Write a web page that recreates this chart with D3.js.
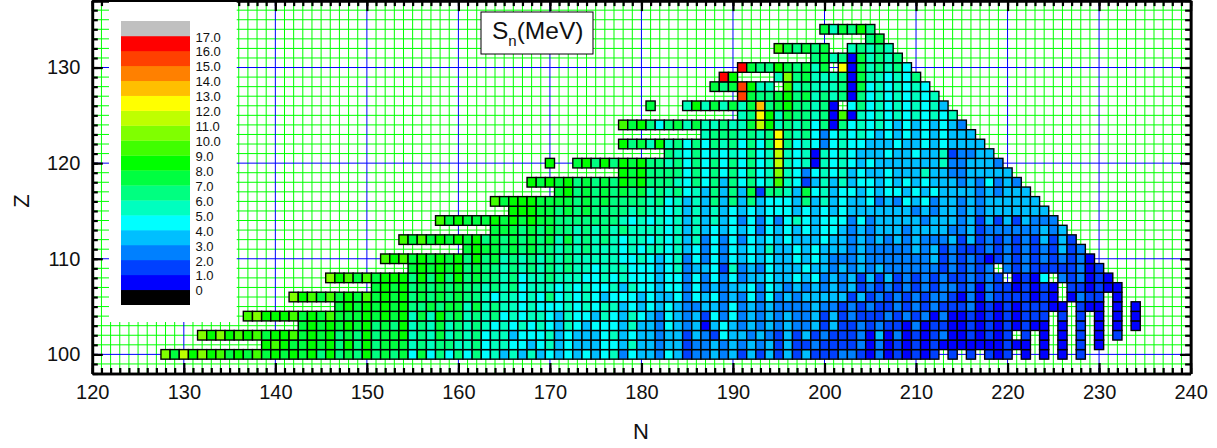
<!DOCTYPE html>
<html>
<head>
<meta charset="utf-8">
<script src="https://cdn.jsdelivr.net/npm/d3@7"></script>
<style>
  body { margin: 0; background: #fff; }
  text { font-family: "Liberation Sans", Arial, sans-serif; fill: #111; }
</style>
</head>
<body>
<div id="chart"></div>
<script>
// Sn, as the lower edge of the 1 MeV colour band. _ = no cell.
var _ = null;
var sn100 = [10,7,11,8,10,8,9,7,8,7,9,7, 8,7,8,7,8,6,8,6,7,6, 8,6,7, 6,7,4,7,4,6,4, 6,4,6,4,5,3,5,3,5,3, 4,3,4,3,4,3,4,5,2,4, 3,3,2,4,3,1, 2,2,3,2,3,1,3,1,3,1,3,1,3,1, 1,1,2,2,1,0,2,0,1,0,1,0,1,_, 1,_,1,_,1,0,1,_,0,_,0,_,0,_,1];
var sn101 = [8, 9,8,7,7,8,7,8,6,8,6, 8,6,7, 7,7,5,6,5,6,6, 5,5,6,4,5,5,4,4,3,4, 5,3,4,3,3,3,4,4,3,5, 3,3,2,3,3,1, 2,2,3,2,3,2,3,2,3,1,3,1,1,2, 1,1,1,1,2,0,2,0,1,0,1,0,1,0, 0,0,0,0,0,0,1,0,0, _,0,_,0,_,1,_,0];
var sn102 = [10,8,10,8,9,8,9,7, 8,8,9,7,8,7,8,6,7,6, 8,6,7, 7,8,5,6,5,7,5, 6,5,6,4,5,5,3,4,4,4, 5,3,4,3,3,3,4,5,3,4, 3,3,2,3,3,1, 3,2,1,4,3,3,2,3,2,1,3,1,3,1, 2,1,1,1,2,0,3,0,2,0,1,0,1,2, 0,0,1,0,1,0,1, _,1,_,0,_,0,_,1,_,0,_,1];
var sn103 = [7,8,7,8,7,8,7, 8,6,7, 6,8,5,6,5,7,5, 6,5,6,5,4,5,4,5,4,5, 4,3,5,4,3,4,4,4,3,5, 3,3,2,4,3,2, 3,0,3,4,3,2,3,2,3,2,3,2,2,3, 1,3,1,1,2,1,2,1,1,0,2,0,1,1, 0,0,1,0,1,0,1,0,1,0,0, _,0,_,1,_,0,_,0,_,0];
var sn104 = [9,10,8, 8,8,9,7,8,7,9,7,7,7, 8,7,8, 7,8,5,7,5,8,6, 7,5,6,5,6,4,5,4,5,5, 4,3,5,4,4,3,5,4,3,5, 4,3,2,4,3,2, 3,1,4,2,4,2,3,2,3,2,3,2,2,3, 1,3,1,2,1,1,1,2,1,2,1,2,0,2, 0,0,1,0,1,0,1,0,1,1,1, _,1,_,1,_,0,_,0,_,0];
var sn105 = [7,8,7, 8,7,8, 7,8,6,6,7,6,7, 7,5,7,5,6,5,5,4,5,4, 4,4,5,4,5,4,5,5,3,4, 3,4,3,4,3,2, 2,3,3,2,4,2,3,2,3,2,2,2,2,3, 2,2,1,2,1,2,1,1,2,1,2,1,2,1, 1,1,2,0,1,0,1,0,1,1,1,0,0, _,1,0,0, _,0,_,0];
var sn106 = [10,8,9,7,9,7,8,7, 9,7,8, 7,8,6,7,6,7,6, 7,6,6,5,4,5,5,4,5,4, 6,4,5,4,5,4,3,4,4,4, 3,4,3,3,4,2, 4,3,4,2,3,2,4,2,4,2,3,2,3,3, 3,3,3,1,3,1,2,1,2,1,2,1,2,2, 1,0,2,0,2,1,1,1,1,0,1,0, _,0,2,1,1, _,0];
var sn107 = [7,8, 7,8,6,7,6,7,6, 7,6,6,5,6,5,6,4,5,5, 5,4,5,4,5,4,4,5,3,5, 4,4,3,4,4,2, 4,2,3,2,3,3,4,2,4,3,2,3,2,3, 2,3,2,3,1,2,1,2,1,2,1,2,1,2, 2,1,2,0,2,1,1,0,1,0,1,0, _,1,1,0,1,0,0];
var sn108 = [10,8,9,7, 9,7,8, 8,8,6,8,6,8,6, 8,6,7,6,6,5,6,4,5,5, 6,5,5,5,4,4,5,4,5,4, 4,4,3,4,4,2, 4,2,4,2,4,2,3,3,4,3,3,4,3,4, 2,3,2,3,1,3,1,3,1,2,1,2,1,2, 1,1,2,1,2,1, _,0,1,0,4, _,2,1,2,0,1,0];
var sn109 = [7,8,7,8,7, 8,6,7,6,6,5,6,5,6,5, 6,5,6,5,5,4,5,5,5,4, 4,4,3,4,5,2, 3,3,4,1,5,2,3,2,4,3,3,3,4,3, 3,2,3,2,3,2,3,2,2,2,2,2,2,1, 2,1,2,1,2, _,2,1,2,1,1,1,1,1,2,0,1];
var sn110 = [9, 8,9,7,8,7,8,7, 8,6,8,6,7,5,6,5,6,5, 6,5,6,5,5,5,5,5,4,4, 5,4,3,4,5,2, 4,2,4,2,4,3,4,3,4,3,3,4,3,4, 3,2,2,2,3,2,2,2,2,2,2,2,3,1, 2,1,2,1,0,1,2,1,2,1,2,1,2,1,2,0];
var sn111 = [7,8,7,7,6,7,6,7,6, 6,5,6,5,6,5,5,5,4,5, 4,5,5,4,5,3, 4,2,4,2,4,3,4,3,5,3,3,4,3,4, 3,3,3,2,3,2,2,2,2,2,3,2,3,1, 2,1,1,1,2,1,2,1,2,1,2,1,3,1,2];
var sn112 = [9,7,9,7,8,7, 8,7,8,6,7,6,7,6,7,6, 7,5,7,5,6,5,6,5,4,5, 5,4,5,4,5,3, 5,2,4,2,4,2,4,3,4,3,4,3,3,3, 4,3,3,2,3,2,3,2,3,2,3,2,2,2, 3,1,3,1,2,1,2,1,2,1,3,1,3,1];
var sn113 = [7,7,7,6,7,6, 7,6,6,5,6,5,6,5,6,5, 5,5,5,4,5,3, 5,3,4,3,4,3,4,2,4,3,4,3,4,3, 4,4,3,2,3,2,3,3,3,2,3,3,3,3, 2,2,3,1,2,2,2,2,2,2,3,2,3];
var sn114 = [9,7, 8,7,7,7,8,7,8,7,8,7, 7,6,6,6,6,6,6,6,5,4, 5,4,5,4,5,3, 5,3,5,3,4,2,4,2,4,2,4,5,4,3, 4,4,4,2,4,2,3,3,3,3,3,2,3,3, 3,2,3,1,3,1,3,1,3,2,2,2];
var sn115 = [8,8,8,7, 7,6,7,6,7,6,6,6,6,5, 6,5,5,4,5,3, 5,3,5,3,4,3,4,3,4,4,4,3,4,3, 4,3,4,3,3,3,3,3,3,3,2,3,2,3, 3,2,3,2,3,3,3,3,3,3,3];
var sn116 = [9,7,8,8,8,7, 7,7,7,6,7,6,7,6,6,6, 6,5,6,4,5,3, 5,3,6,3,6,3,6,3,4,4,4,3,6,3, 5,3,4,3,3,4,2,3,2,4,3,4,2,3, 3,2,3,2,3,3,3,3,3,3];
var sn117 = [7,8,6,7,6,7,6,7,6, 7,5,6,5,6,4, 5,3,6,3,6,3,7,1,6,6,5,3,7,4, 5,3,4,4,3,4,3,4,4,3,4,3,4,3, 3,3,3,2,3,2,3,3,3];
var sn118 = [8,7,8,7,8,6,7,6,7,6,8,7, 8,6,6,6,5,4, 6,4,6,3,6,4,6,4,5,9,5,4,1,3, 5,3,5,3,4,4,3,4,3,4,3,4,3,3, 3,2,3,2,4,2,3,2];
var sn119 = [8,7, 8,6,6,6,6,4, 6,4,6,4,6,4,6,4,5,10,5,4,2,4, 5,4,5,3,4,3,3,4,3,3,3,5,3,3, 2,2,3,3,3,3,3];
var sn120 = [8,_,_, 7,8,6,8,6,8,7, 8,6,6,5,6,4, 6,4,6,4,6,4,6,4,5,11,5,4,5,0, 5,4,5,4,3,4,3,3,3,3,3,3,3,5, 2,2,3,3,3,2];
var sn121 = [6,5,4, 6,4,5,4,5,4,6,4,5,11,5,4,5,0, 5,4,5,4,3,3,3,4,3,3,4,3,3,5, 1,2,2,3,3];
var sn122 = [8,6, 7,5,8,5,6,4, 6,4,6,5,6,4,6,4,6,12,6,4,5,4, 2,4,5,4,4,3,3,3,4,3,3,4,3,4, 3,3,3,3];
var sn123 = [5,6,6,6,5,6,5,6,12,6,5,6,4, 2,4,5,4,5,4,3,4,3,4,3,4,3,4, 3,3,3];
var sn124 = [9,7, 8,6,4,6,7,5, 7,5,5,6,5,5,7,11,8,5,6,5,6,4, 6,0,6,4,5,4,5,4,3,4,3,4,3,4, 3,2];
var sn125 = [5,6,12,8,5,7,6,6,5, 6,0,9,0,5,4,5,4,5,4,5,4,5,4,5];
var sn126 = [7,_,_,_,5, 8,5,7,5,7,5,7,13,6,7,8,6,6,5, 6,0,_,4,6,4,5,4,5,4,5,4,5,3];
var sn127 = [15,7,6,6,7,8,6,7,5, 6,5,6,0,6,4,5,4,5,4,5,4,5];
var sn128 = [7,6,7,15,8,5,5,_,9,5,6,5, 5,5,6,0,7,4,5,4,5,4,5,4];
var sn129 = [16,8,_,_,_,_,5,10,6,7,5, 5,5,6,0,7,5,5,4,5,4,6];
var sn130 = [16,7,6,6,8,7,6,7,5, 7,_,12,0,7,5,6,5,6,4];
var sn131 = [6, 7,5,6,0,7,5,6,5,6];
var sn132 = [9,7,6,7,6, 7,_,_,5,6,5,6,5];
var sn133 = [6,7];
var sn134 = [7,5,7,6,8,6];

var protonRows = [100,101,102,103,104,105,106,107,108,109,110,111,112,113,114,115,116,117,118,119,120,121,122,123,124,125,126,127,128,129,130,131,132,133,134];
var firstNeutron = [128,139,132,143,137,147,142,151,146,155,152,161,154,164,158,166,164,171,168,178,170,183,178,187,178,191,181,191,188,189,191,199,195,205,200];
var snRows = [sn100,sn101,sn102,sn103,sn104,sn105,sn106,sn107,sn108,sn109,sn110,sn111,sn112,sn113,sn114,sn115,sn116,sn117,sn118,sn119,sn120,sn121,sn122,sn123,sn124,sn125,sn126,sn127,sn128,sn129,sn130,sn131,sn132,sn133,sn134];

var legendEdges = [0,1,2,3,4,5,6,7,8,9,10,11,12,13,14,15,16,17];
var legendColors = ["#000000","#0000ff","#0040ff","#0080ff","#00bfff","#00ffff","#00ffbf","#00ff80","#00ff40","#00ff00","#40ff00","#80ff00","#bfff00","#ffff00","#ffbf00","#ff8000","#ff4000","#ff0000","#c0c0c0"];

var svgWidth = 1217;
var svgHeight = 448;

var margin = { top: 0.6, right: 26, bottom: 74.5, left: 92.3 };
var width = 1190.6 - margin.left;
var height = svgHeight - margin.bottom - margin.top;

var svg = d3.select("#chart")
  .append("svg")
  .attr("width", svgWidth)
  .attr("height", svgHeight)
  .style("display", "block");

var chart = svg.append("g")
  .attr("transform", `translate(${margin.left}, ${margin.top})`);

var x = d3.scaleLinear().domain([120, 240]).range([0, width]);
var y = d3.scaleLinear().domain([98, 137]).range([height, 0]);
var color = d3.scaleThreshold().domain(legendEdges).range(legendColors);

var cells = [];
protonRows.forEach(function(z, i) {
  snRows[i].forEach(function(v, j) {
    if (v !== null) cells.push({ n: firstNeutron[i] + j, z: z, sn: v });
  });
});

// grid, green every unit and blue every ten
var xUnits = d3.range(121, 240);
var yUnits = d3.range(99, 137);
var grid = chart.append("g");

grid.selectAll("line.gx").data(xUnits.filter(d => d % 10)).enter().append("line")
  .attr("x1", d => x(d)).attr("x2", d => x(d))
  .attr("y1", 0).attr("y2", height)
  .attr("stroke", "#00ff00");
grid.selectAll("line.gy").data(yUnits.filter(d => d % 10)).enter().append("line")
  .attr("y1", d => y(d)).attr("y2", d => y(d))
  .attr("x1", 0).attr("x2", width)
  .attr("stroke", "#00ff00");
grid.selectAll("line.bx").data(xUnits.filter(d => d % 10 == 0)).enter().append("line")
  .attr("x1", d => x(d)).attr("x2", d => x(d))
  .attr("y1", 0).attr("y2", height)
  .attr("stroke", "#0000ff");
grid.selectAll("line.by").data(yUnits.filter(d => d % 10 == 0)).enter().append("line")
  .attr("y1", d => y(d)).attr("y2", d => y(d))
  .attr("x1", 0).attr("x2", width)
  .attr("stroke", "#0000ff");

// white panel behind the legend
svg.append("rect")
  .attr("x", 109).attr("y", 2)
  .attr("width", 127.7).attr("height", 320)
  .attr("fill", "#fff");

// cells
var cellW = x(121) - x(120);
var cellH = y(100) - y(101);

chart.selectAll("rect.cell")
  .data(cells)
  .enter()
  .append("rect")
  .attr("class", "cell")
  .attr("x", d => x(d.n) - cellW / 2)
  .attr("y", d => y(d.z) - cellH / 2)
  .attr("width", cellW)
  .attr("height", cellH)
  .attr("fill", d => color(d.sn))
  .attr("stroke", "#000")
  .attr("stroke-width", 1.4);

// ticks point inwards on all four sides
var xMajor = d3.range(120, 241, 10);
var yMajor = [100, 110, 120, 130];
var xMinor = d3.range(120, 241);
var yMinor = d3.range(98, 138);

function frameAxis(selection, axis) {
  selection.call(axis);
  selection.select(".domain").attr("stroke-width", 2.6);
  selection.selectAll(".tick line").attr("stroke-width", 2.2);
}

function addAxis(make, scale, transform, minor, major) {
  chart.append("g").attr("transform", transform)
    .call(frameAxis, make(scale).tickValues(minor).tickSizeInner(-5.5).tickSizeOuter(0).tickFormat(""));
  chart.append("g").attr("transform", transform)
    .call(frameAxis, make(scale).tickValues(major).tickSizeInner(-10.5).tickSizeOuter(0).tickFormat(""));
}

addAxis(d3.axisBottom, x, `translate(0, ${height})`, xMinor, xMajor);
addAxis(d3.axisTop, x, "translate(0, 0)", xMinor, xMajor);
addAxis(d3.axisLeft, y, "translate(0, 0)", yMinor, yMajor);
addAxis(d3.axisRight, y, `translate(${width}, 0)`, yMinor, yMajor);

// tick labels
chart.append("g").attr("transform", `translate(0, ${height})`)
  .call(d3.axisBottom(x).tickValues(xMajor).tickSize(0).tickPadding(11).tickFormat(d3.format("d")))
  .call(g => g.select(".domain").remove())
  .selectAll("text").attr("font-size", 20).style("font-family", "Liberation Sans");
chart.append("g")
  .call(d3.axisLeft(y).tickValues(yMajor).tickSize(0).tickPadding(12).tickFormat(d3.format("d")))
  .call(g => g.select(".domain").remove())
  .selectAll("text").attr("font-size", 20).style("font-family", "Liberation Sans");

// axis titles
svg.append("text")
  .attr("x", 641).attr("y", 439)
  .attr("text-anchor", "middle")
  .attr("font-size", 22)
  .text("N");
svg.append("text")
  .attr("transform", "translate(29, 201) rotate(-90)")
  .attr("text-anchor", "middle")
  .attr("font-size", 22)
  .text("Z");

// legend
var legendY = d3.scaleLinear().domain([18, -1]).range([21, 304.7]);

svg.selectAll("rect.band")
  .data(legendColors)
  .enter()
  .append("rect")
  .attr("class", "band")
  .attr("x", 121)
  .attr("width", 69)
  .attr("y", (d, i) => legendY(i === 0 ? 0 : legendEdges[i - 1] + 1))
  .attr("height", legendY(0) - legendY(1) + 0.3)
  .attr("fill", d => d);

svg.selectAll("text.bandLabel")
  .data(legendEdges)
  .enter()
  .append("text")
  .attr("class", "bandLabel")
  .attr("x", 195.5)
  .attr("y", d => legendY(d) + 5.6)
  .attr("font-size", 13)
  .text(d => d === 0 ? "0" : d.toFixed(1));

// title box
svg.append("rect")
  .attr("x", 481).attr("y", 12)
  .attr("width", 112).attr("height", 42)
  .attr("fill", "#fff")
  .attr("stroke", "#000")
  .attr("stroke-width", 1);

var title = svg.append("text")
  .attr("x", 492).attr("y", 38.5)
  .attr("font-size", 24.5);
title.append("tspan").text("S");
title.append("tspan").attr("font-size", 15).attr("dy", 7).text("n");
title.append("tspan").attr("dy", -7).text("(MeV)");
</script>
</body>
</html>
